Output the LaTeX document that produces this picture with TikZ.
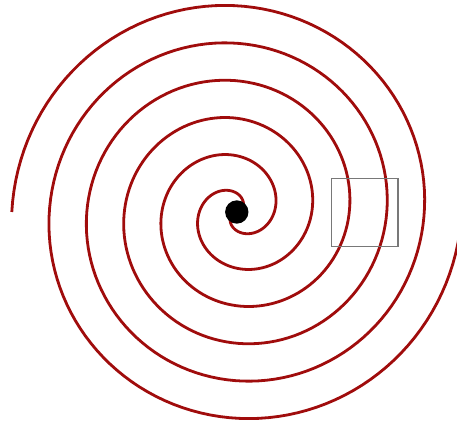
\documentclass[tikz,border=0pt]{standalone}
\usepackage{xcolor}
\usepackage{tikz}
\usetikzlibrary{positioning}
\definecolor{spiralRed}{RGB}{160, 12, 12}
\definecolor{frameGray}{RGB}{120, 120, 120}

\begin{document}
\begin{tikzpicture}[
    x=0.75pt,
    y=0.75pt,
    arm/.style={
        draw=spiralRed,
        line width=2.1pt
    },
    hub/.style={
        circle,
        minimum size=17.5pt,
        inner sep=0pt,
        fill=black
    },
    lens/.style={
        draw=frameGray,
        line width=0.8pt
    }
]

% Picture frame
\useasboundingbox (-236.8,-214) rectangle (220.2,212);

% Two spiral arms
\foreach \s in {0,180}
    \draw[arm] plot[domain=0:1080, samples=400, variable=\t] ({\t+\s}:{\t/4.8});

% Centre
\node[hub] (centre) at (0,0) {};

% Detail box
\draw[lens] (94.7,-34.5) rectangle (161.2,33.7);

\end{tikzpicture}
\end{document}
